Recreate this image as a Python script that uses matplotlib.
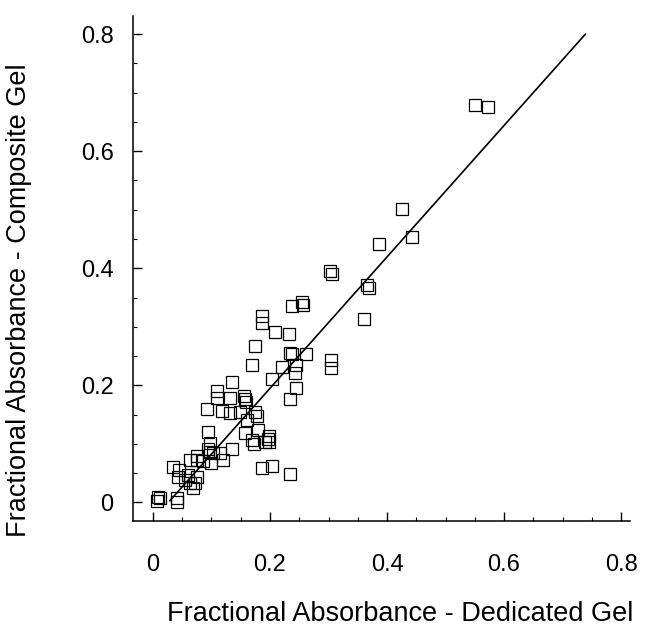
import matplotlib
matplotlib.use('Agg')
import matplotlib.pyplot as plt
from matplotlib.ticker import MultipleLocator, FixedFormatter, FixedLocator

plt.rcParams['font.family'] = ['Liberation Sans', 'DejaVu Sans']

# ---- data (dedicated gel, composite gel) ----
dedicated = [
    0.550, 0.572, 0.426, 0.443, 0.386, 0.303, 0.306, 0.366, 0.369, 0.361,
    0.254, 0.256, 0.237, 0.232, 0.235, 0.238, 0.262, 0.305, 0.305, 0.243,
    0.245, 0.245, 0.235, 0.187, 0.187, 0.208, 0.175, 0.170, 0.221, 0.203,
    0.135, 0.109, 0.109, 0.131, 0.155, 0.157, 0.159, 0.092, 0.118, 0.131,
    0.148, 0.174, 0.177, 0.160, 0.094, 0.157, 0.179, 0.170, 0.172, 0.199,
    0.199, 0.191, 0.097, 0.135, 0.075, 0.075, 0.097, 0.114, 0.119, 0.100,
    0.085, 0.063, 0.187, 0.203, 0.235, 0.034, 0.044, 0.043, 0.060, 0.055,
    0.075, 0.072, 0.068, 0.041, 0.041, 0.009, 0.007, 0.012, 0.063, 0.102,
    0.094, 0.196,
]
composite = [
    0.679, 0.675, 0.501, 0.453, 0.441, 0.395, 0.390, 0.371, 0.367, 0.313,
    0.342, 0.338, 0.335, 0.287, 0.255, 0.253, 0.253, 0.244, 0.229, 0.221,
    0.234, 0.195, 0.176, 0.318, 0.306, 0.291, 0.267, 0.234, 0.231, 0.210,
    0.205, 0.191, 0.179, 0.179, 0.181, 0.176, 0.171, 0.159, 0.156, 0.152,
    0.154, 0.154, 0.147, 0.140, 0.120, 0.118, 0.123, 0.106, 0.099, 0.113,
    0.104, 0.103, 0.101, 0.091, 0.080, 0.072, 0.086, 0.084, 0.072, 0.068,
    0.070, 0.072, 0.058, 0.063, 0.048, 0.060, 0.055, 0.043, 0.046, 0.038,
    0.043, 0.033, 0.024, 0.007, 0.000, 0.009, 0.003, 0.007, 0.034, 0.084,
    0.092, 0.109,
]

# fitted line end points
fit_x = [0.029, 0.739]
fit_y = [0.003, 0.800]

tick_vals = [0, 0.2, 0.4, 0.6, 0.8]
tick_labels = ['0', '0.2', '0.4', '0.6', '0.8']

fig = plt.figure(figsize=(6.46, 6.41), dpi=100)
ax = fig.add_axes([0.206, 0.187, 0.769, 0.788])

ax.plot(dedicated, composite, 's', markersize=8.5, markerfacecolor='none',
        markeredgecolor='black', markeredgewidth=0.9)
ax.plot(fit_x, fit_y, color='black', lw=1.2)

ax.set_xlim(-0.034, 0.815)
ax.set_ylim(-0.032, 0.831)

for s in ['top', 'right']:
    ax.spines[s].set_visible(False)
for s in ['left', 'bottom']:
    ax.spines[s].set_linewidth(1.1)

ax.xaxis.set_major_locator(FixedLocator(tick_vals))
ax.xaxis.set_major_formatter(FixedFormatter(tick_labels))
ax.yaxis.set_major_locator(FixedLocator(tick_vals))
ax.yaxis.set_major_formatter(FixedFormatter(tick_labels))
ax.xaxis.set_minor_locator(MultipleLocator(0.05))
ax.yaxis.set_minor_locator(MultipleLocator(0.05))
ax.tick_params(which='major', direction='in', length=6.5, width=1, labelsize=17)
ax.tick_params(which='minor', direction='in', length=3.2, width=0.8)
ax.tick_params(axis='x', which='major', pad=24)
ax.tick_params(axis='y', which='major', pad=14)

fig.text(400 / 646, 1 - 614 / 641, 'Fractional Absorbance - Dedicated Gel',
         ha='center', va='center', fontsize=19.5)
fig.text(19 / 646, 1 - 300 / 641, 'Fractional Absorbance - Composite Gel',
         ha='center', va='center', rotation=90, fontsize=19.5)

plt.savefig('out.png', dpi=100)
